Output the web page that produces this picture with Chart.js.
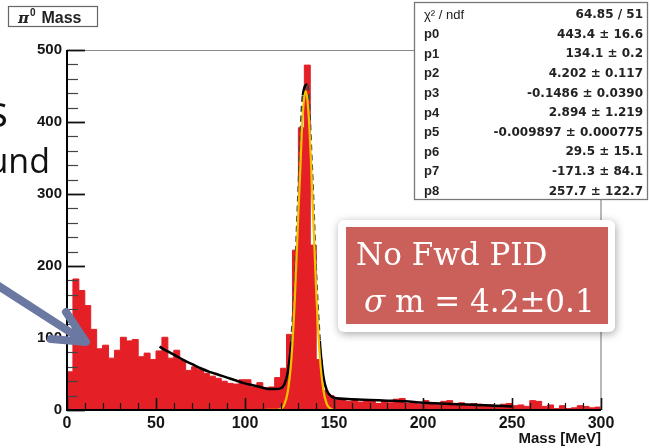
<!DOCTYPE html>
<html><head><meta charset="utf-8">
<script src="https://cdn.jsdelivr.net/npm/chart.js@4.4.0/dist/chart.umd.min.js"></script>
<style>html,body{margin:0;padding:0;background:#fff;}canvas{display:block;}</style>
</head><body>
<canvas id="c" width="650" height="448"></canvas>
<script>
// ---------- data ----------
const histMin = 0, histMax = 300;
const binCounts = [53,182,166,145,112,85,90,72,83,101,96,98,74,79,70,82,101,72,83,69,
  55,60,56,51,47,44,40,37,36,42,42,32,38,31,32,45,58,105,222,392,
  479,229,70,27,20,15,16,12,15,11,13,12,9,12,10,15,16,9,10,8,
  13,9,8,12,13,7,10,7,9,8,6,7,5,8,9,6,7,5,13,12,
  5,7,2,6,2,3,6,5,3,4];
const fitX = [52,56,60,65,70,75,80,85,90,95,100,105,110,114,117,120,122,124,126,128,130,132.5,135,137.5,140,142,144,146,148,150,160,170,180,190,200,210,220,230,240,250];
const fitY = [88,82,77,70,64,58,53,49,45,41,37,34,31,29,29,30,35,52,95,180,300,437,452,340,185,96,47,27,20,17,15,14,13,12,10,9,8,7,6,5];
const gausX = [100,110,116,118,120,122,124,126,128,130,131,132,133,134,135,136,137,138,140,142,144,146,148,150,154,160];
const gausY = [0,0,0.2,0.3,1.6,7,25,69,155,275,330,391,428,443,432,400,350,288,165,76,28,8,2,0.3,0,0];
const xTickValues = [0,50,100,150,200,250,300];
const yTickValues = [0,100,200,300,400,500];
const xMinorStep = 10, yMinorStep = 20;
const xTitle = 'Mass [MeV]';
const histTitle = ['π','0',' Mass'];
const statsLabels = ['χ² / ndf','p0','p1','p2','p3','p4','p5','p6','p7','p8'];
const statsValues = ['64.85 / 51','443.4 ± 16.6','134.1 ± 0.2','4.202 ± 0.117','-0.1486 ± 0.0390','2.894 ± 1.219','-0.009897 ± 0.000775','29.5 ± 15.1','-171.3 ± 84.1','257.7 ± 122.7'];
const noteLines = ['No Fwd PID', ['σ', ' m = 4.2±0.1']];
const sideText = ['s', 'und'];

// ---------- build library data ----------
const RED = '#e41f26';
const binW = (histMax - histMin) / binCounts.length;
const histPts = binCounts.map((v, i) => ({x: histMin + i * binW, y: v}));
histPts.push({x: histMax, y: binCounts[binCounts.length - 1]});
const fitPts = fitX.map((x, i) => ({x, y: fitY[i]}));
const gausPts = gausX.map((x, i) => ({x, y: gausY[i]}));

const overlay = {
  id: 'overlay',
  afterDatasetsDraw(chart) {
    const {ctx, chartArea: a, scales: {x, y}} = chart;
    ctx.save();
    ctx.strokeStyle = '#8a8a8a'; ctx.lineWidth = 1.2;
    ctx.beginPath(); ctx.moveTo(a.left, a.top + 0.5); ctx.lineTo(a.right, a.top + 0.5); ctx.lineTo(a.right, a.bottom); ctx.stroke();
    ctx.strokeStyle = '#111';
    for (let v = histMin; v <= histMax + 1e-9; v += xMinorStep) {
      const px = Math.round(x.getPixelForValue(v)) + 0.5;
      const major = xTickValues.includes(v);
      ctx.lineWidth = major ? 1.6 : 1.2;
      ctx.beginPath(); ctx.moveTo(px, a.bottom); ctx.lineTo(px, a.bottom - (major ? 12 : 7)); ctx.stroke();
    }
    for (let v = 0; v <= 500 + 1e-9; v += yMinorStep) {
      const py = Math.round(y.getPixelForValue(v)) + 0.5;
      const major = yTickValues.includes(v);
      ctx.strokeStyle = major ? '#111' : '#444';
      ctx.lineWidth = major ? 1.8 : 1.2;
      ctx.beginPath(); ctx.moveTo(a.left, py); ctx.lineTo(a.left + (major ? 18 : 11), py); ctx.stroke();
    }
    ctx.strokeStyle = '#000'; ctx.lineWidth = 2;
    ctx.beginPath(); ctx.moveTo(a.left, a.top); ctx.lineTo(a.left, a.bottom); ctx.lineTo(a.right, a.bottom); ctx.stroke();
    ctx.restore();
  },
  afterDraw(chart) {
    const {ctx} = chart;
    ctx.save();
    ctx.fillStyle = '#fff'; ctx.fillRect(8, 6, 90, 21);
    ctx.strokeStyle = '#666'; ctx.lineWidth = 1.2; ctx.strokeRect(8.5, 6.5, 89, 20);
    ctx.fillStyle = '#222'; ctx.textBaseline = 'alphabetic';
    ctx.font = 'italic bold 15px "DejaVu Serif"'; ctx.fillText(histTitle[0], 18, 23);
    ctx.font = 'bold 10px "Liberation Sans"'; ctx.fillText(histTitle[1], 30, 16);
    ctx.font = 'bold 16px "Liberation Sans"'; ctx.fillText(histTitle[2], 37, 23);

    ctx.fillStyle = '#fff'; ctx.fillRect(414, 2, 234, 197);
    ctx.strokeStyle = '#777'; ctx.lineWidth = 1.3; ctx.strokeRect(414.5, 2.5, 233, 197);
    ctx.textBaseline = 'middle';
    statsLabels.forEach((lab, i) => {
      const yy = 15 + i * 19.6;
      ctx.fillStyle = '#222';
      ctx.font = (i === 0 ? '' : 'bold ') + '13px "Liberation Sans"';
      ctx.textAlign = 'left'; ctx.fillText(lab, 424, yy);
      ctx.font = 'bold 12px "DejaVu Sans"';
      ctx.textAlign = 'right'; ctx.fillText(statsValues[i], 643, yy);
    });

    ctx.save();
    ctx.shadowColor = 'rgba(0,0,0,0.35)'; ctx.shadowBlur = 8; ctx.shadowOffsetX = 1; ctx.shadowOffsetY = 2;
    ctx.fillStyle = '#fff';
    ctx.beginPath(); ctx.roundRect(338, 220, 277, 112, 6); ctx.fill();
    ctx.restore();
    ctx.fillStyle = '#cb605b'; ctx.fillRect(346, 227, 262, 97);
    ctx.fillStyle = '#fff'; ctx.textAlign = 'left'; ctx.textBaseline = 'alphabetic';
    ctx.font = '31px "DejaVu Serif"'; ctx.fillText(noteLines[0], 356, 265);
    ctx.font = 'italic 31px "DejaVu Serif"'; ctx.fillText(noteLines[1][0], 364, 312);
    const w = ctx.measureText(noteLines[1][0]).width;
    ctx.font = '31px "DejaVu Serif"'; ctx.fillText(noteLines[1][1], 364 + w, 312);

    ctx.fillStyle = '#111'; ctx.textAlign = 'right';
    ctx.font = '43px "Open Sans"'; ctx.fillText(sideText[0], 8, 127);
    ctx.font = '34px "Open Sans"'; ctx.fillText(sideText[1], 50, 173);

    ctx.strokeStyle = '#6b78a2'; ctx.lineWidth = 8; ctx.lineCap = 'round'; ctx.lineJoin = 'round';
    ctx.beginPath(); ctx.moveTo(-6, 283); ctx.lineTo(84, 341); ctx.stroke();
    ctx.beginPath(); ctx.moveTo(66, 312); ctx.lineTo(86, 342); ctx.lineTo(51, 339); ctx.stroke();
    ctx.restore();
  }
};

const steep = c => Math.abs(c.p1.parsed.y - c.p0.parsed.y) > 60;

new Chart(document.getElementById('c'), {
  type: 'line',
  data: {datasets: [
    {data: histPts, stepped: true, fill: 'origin', backgroundColor: RED, borderColor: RED, borderWidth: 1, pointRadius: 0, order: 3},
    {data: fitPts, borderColor: '#000', borderWidth: 2.5, pointRadius: 0, fill: false, cubicInterpolationMode: 'monotone', order: 2, clip: 4,
      segment: {borderDash: c => steep(c) ? [6, 4] : undefined, borderColor: c => steep(c) ? '#444' : undefined}},
    {data: gausPts, borderColor: '#f5c000', borderWidth: 2.2, pointRadius: 0, fill: false, cubicInterpolationMode: 'monotone', order: 1, clip: 4}
  ]},
  options: {
    responsive: false, animation: false, devicePixelRatio: 1,
    layout: {padding: {top: 50, right: 49, left: 0, bottom: 0}},
    plugins: {legend: {display: false}, tooltip: {enabled: false}},
    scales: {
      x: {type: 'linear', min: histMin, max: histMax,
        grid: {display: false, drawTicks: false}, border: {display: false},
        ticks: {stepSize: 50, padding: 4, color: '#151515', maxRotation: 0, autoSkip: false,
          font: {family: '"Liberation Sans"', size: 16, weight: 'bold'}},
        title: {display: true, text: xTitle, align: 'end', color: '#151515', padding: {top: 0, bottom: 0},
          font: {family: '"Liberation Sans"', size: 15, weight: 'bold'}},
        afterFit: s => { s.height = 38; }},
      y: {min: 0, max: 500,
        grid: {display: false, drawTicks: false}, border: {display: false},
        ticks: {stepSize: 100, padding: 5, color: '#151515',
          font: {family: '"Liberation Sans"', size: 15, weight: 'bold'}},
        afterFit: s => { s.width = 67; }}
    }
  },
  plugins: [overlay]
});
</script>
</body></html>
